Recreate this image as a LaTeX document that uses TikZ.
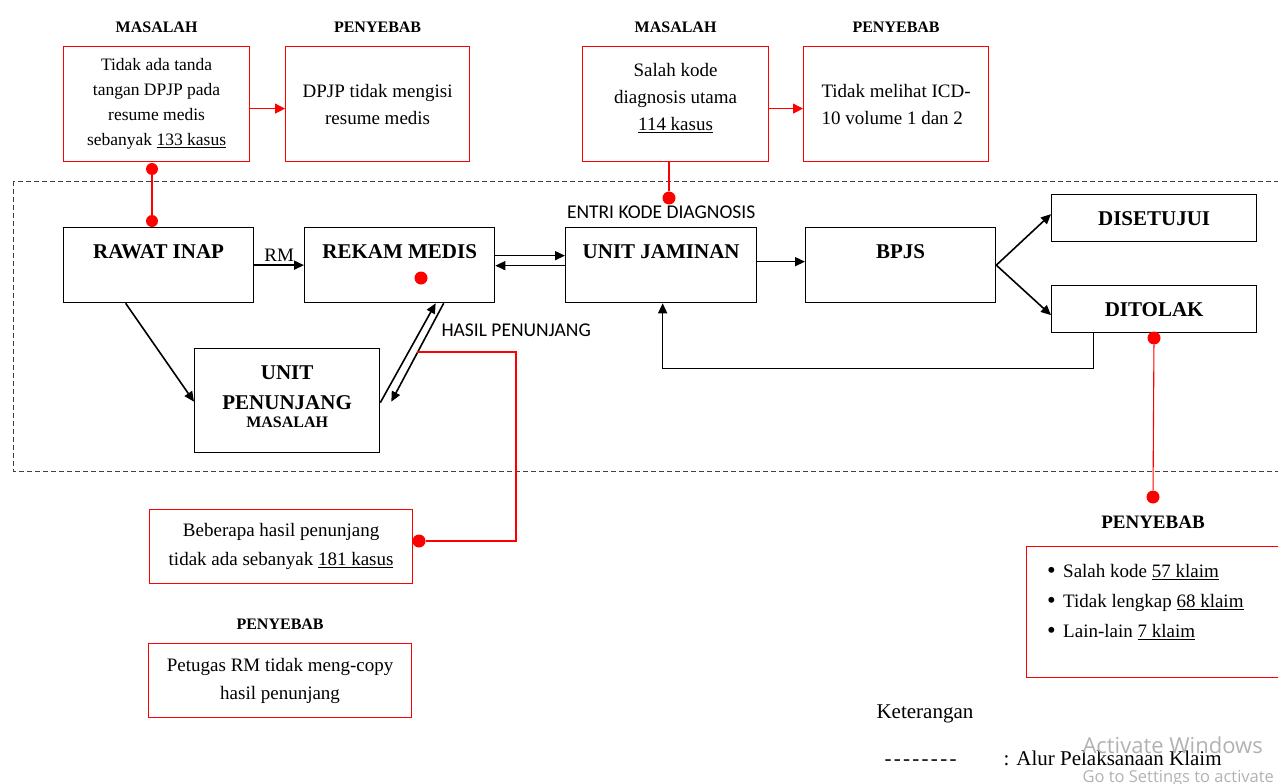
\documentclass[tikz,border=0pt]{standalone}
\usepackage{fontspec}
\setmainfont{Liberation Serif}
\newfontfamily\calibri{Carlito}
\newfontfamily\winfont{Open Sans}
\usepackage{tikz}
\usetikzlibrary{positioning,arrows.meta}

\newcommand{\butir}{\makebox[16pt][l]{\raisebox{-1.6pt}{\scalebox{1.3}{\textbullet}}}}

\begin{document}
\begin{tikzpicture}[
  x=1pt, y=-1pt,
  procbox/.style={draw, line width=1.3pt, anchor=north west, minimum height=75pt,
    text height=31pt, text depth=44pt, inner ysep=0pt,
    font=\fontsize{21}{25}\selectfont\bfseries},
  resbox/.style={draw, line width=1.3pt, anchor=north west, minimum width=205pt,
    minimum height=47pt, font=\fontsize{21}{25}\selectfont\bfseries},
  notebox/.style={draw=red, line width=1.2pt, anchor=north west, align=center,
    font=\fontsize{19}{27}\selectfont},
  headlbl/.style={font=\fontsize{16}{18}\selectfont\bfseries},
  sanslbl/.style={font=\fontsize{19.5}{22}\selectfont\calibri},
  flowarrow/.style={line width=1.6pt, -{Triangle[length=10pt,width=9pt]}},
  redline/.style={red, line width=1.1pt},
  redarrow/.style={redline, -{Triangle[length=10pt,width=10pt]}},
  reddot/.style={circle, fill=red, inner sep=0pt, minimum size=13pt},
]
\useasboundingbox (0,0) rectangle (1278,784);

% masalah dan penyebab (atas)
\node[notebox, minimum width=186pt, minimum height=115pt, font=\fontsize{17.5}{25}\selectfont] (masalahA) at (63,46)
  {Tidak ada tanda\\tangan DPJP pada\\resume medis\\sebanyak \underline{133 kasus}};
\node[notebox, minimum width=184pt, minimum height=115pt] (penyebabA) at (285,46)
  {DPJP tidak mengisi\\resume medis};
\node[headlbl, above=10pt of masalahA] (lblMasalahA) {MASALAH};
\node[headlbl, above=10pt of penyebabA] (lblPenyebabA) {PENYEBAB};
\node[notebox, minimum width=186pt, minimum height=115pt] (masalahB) at (582,46)
  {Salah kode\\diagnosis utama\\\underline{114 kasus}\\[-12pt]\mbox{}};
\node[notebox, minimum width=185pt, minimum height=115pt, align=left] (penyebabB) at (803,46)
  {Tidak melihat ICD-\\10 volume 1 dan 2};
\node[headlbl, above=10pt of masalahB] (lblMasalahB) {MASALAH};
\node[headlbl, above=10pt of penyebabB] (lblPenyebabB) {PENYEBAB};

% alur pelaksanaan klaim
\draw[dashed, dash pattern=on 5pt off 3pt, line width=1pt, black!75] (13,181) rectangle (1292,471);
\node[procbox, minimum width=190pt] (rawat) at (63,227) {RAWAT INAP};
\node[procbox, minimum width=190pt] (rekam) at (304,227) {REKAM MEDIS};
\node[procbox, minimum width=191pt] (jaminan) at (565,227) {UNIT JAMINAN};
\node[procbox, minimum width=190pt] (bpjs) at (805,227) {BPJS};
\node[resbox] (disetujui) at (1051,194) {DISETUJUI};
\node[resbox] (ditolak) at (1051,285) {DITOLAK};
\node[draw, line width=1.3pt, anchor=north west, minimum width=185pt, minimum height=104pt,
  align=center, font=\fontsize{21}{25}\selectfont\bfseries] (penunjang) at (194,348)
  {UNIT\\[5pt]PENUNJANG\\[-7pt]{\fontsize{16}{16}\selectfont MASALAH}\\[-17pt]\mbox{}};
\node[sanslbl, above=5pt of jaminan] (entri) {ENTRI KODE DIAGNOSIS};
\node[sanslbl, anchor=west] (hasil) at (438,330) {HASIL PENUNJANG};

\draw[flowarrow] (rawat) -- node[above, font=\fontsize{19}{22}\selectfont] (rm) {RM} (rekam);
\draw[flowarrow] ([yshift=9.5pt]rekam.east) -- ([yshift=9.5pt]jaminan.west);
\draw[flowarrow] ([yshift=-0.5pt]jaminan.west) -- ([yshift=-0.5pt]rekam.east);
\draw[flowarrow] ([yshift=3.5pt]jaminan.east) -- ([yshift=3.5pt]bpjs.west);
\draw[flowarrow] (bpjs.east) -- ([yshift=4pt]disetujui.west);
\draw[flowarrow] (bpjs.east) -- ([yshift=-6pt]ditolak.west);
\draw[flowarrow] ([xshift=-33pt]rawat.south) -- ([yshift=-1pt]penunjang.west);
\draw[flowarrow] ([yshift=-2pt]penunjang.east) -- ([xshift=36pt]rekam.south);
\draw[flowarrow] ([xshift=44pt]rekam.south) -- ([xshift=11pt,yshift=-1pt]penunjang.east);
\draw[flowarrow, line width=1.3pt] ([xshift=-60.5pt]ditolak.south) -- ++(0,35) -| ([xshift=1.5pt]jaminan.south);

% penghubung merah
\draw[redarrow] ([yshift=-4.5pt]masalahA.east) -- ([yshift=-4.5pt]penyebabA.west);
\draw[redarrow] ([yshift=-4.5pt]masalahB.east) -- ([yshift=-4.5pt]penyebabB.west);
\node[reddot, minimum size=12pt] (dotA1) at (152,169) {};
\node[reddot, minimum size=12pt] (dotA2) at (152,221) {};
\draw[redline] (dotA1) -- (dotA2);
\node[reddot] (dotB) at (669,198) {};
\draw[redline] (masalahB.south -| dotB) -- (dotB);
\node[reddot] (dotRekam) at (421,278) {};
\coordinate (hasilKiri) at (417,352);
\node[reddot] (dotD) at (419,541) {};
\draw[redline] (hasilKiri) -- ++(99,0) |- (dotD);
\node[reddot] (dotC1) at (1154,338) {};
\node[reddot] (dotC2) at (1153,497) {};
\draw[redline] (dotC1) -- (dotC2);

% masalah dan penyebab (bawah)
\node[notebox, minimum width=263pt, minimum height=74pt, font=\fontsize{19}{29}\selectfont] (masalahD) at (149,509)
  {Beberapa hasil penunjang\\tidak ada sebanyak \underline{181 kasus}};
\node[notebox, minimum width=263pt, minimum height=74pt, font=\fontsize{19}{28}\selectfont] (penyebabD) at (148,643)
  {Petugas RM tidak meng-copy\\hasil penunjang};
\node[headlbl, above=9.5pt of penyebabD] (lblPenyebabD) {PENYEBAB};
\node[headlbl, font=\fontsize{19}{22}\selectfont\bfseries, below=8.5pt of dotC2] (lblPenyebabC) {PENYEBAB};
\node[notebox, minimum width=272pt, minimum height=131pt] (penyebabC) at (1026,546) {};
\node[anchor=north west, align=left, inner sep=0pt, font=\fontsize{19}{30}\selectfont] (listC) at (1047,564)
  {\butir Salah kode \underline{57 klaim}\\
   \butir Tidak lengkap \underline{68 klaim}\\
   \butir Lain-lain \underline{7 klaim}};

% keterangan
\node[anchor=base west, font=\fontsize{21}{25}\selectfont] (ket) at (873,718) {Keterangan};
\node[anchor=base west, font=\fontsize{21}{25}\selectfont] (ketGaris) at (881,765)
  {-\kern2.3pt-\kern2.3pt-\kern2.3pt-\kern2.3pt-\kern2.3pt-\kern2.3pt-\kern2.3pt-};
\node[anchor=base west, font=\fontsize{21}{25}\selectfont] (ketAlur) at (1000,765) {: Alur Pelaksanaan Klaim};
\node[anchor=base west, text=gray!60, font=\fontsize{22}{25}\selectfont\winfont] (wmA) at (1079,753) {Activate Windows};
\node[anchor=base west, text=gray!60, font=\fontsize{16.5}{18}\selectfont\winfont] (wmB) at (1079,782) {Go to Settings to activate};
\end{tikzpicture}
\end{document}
